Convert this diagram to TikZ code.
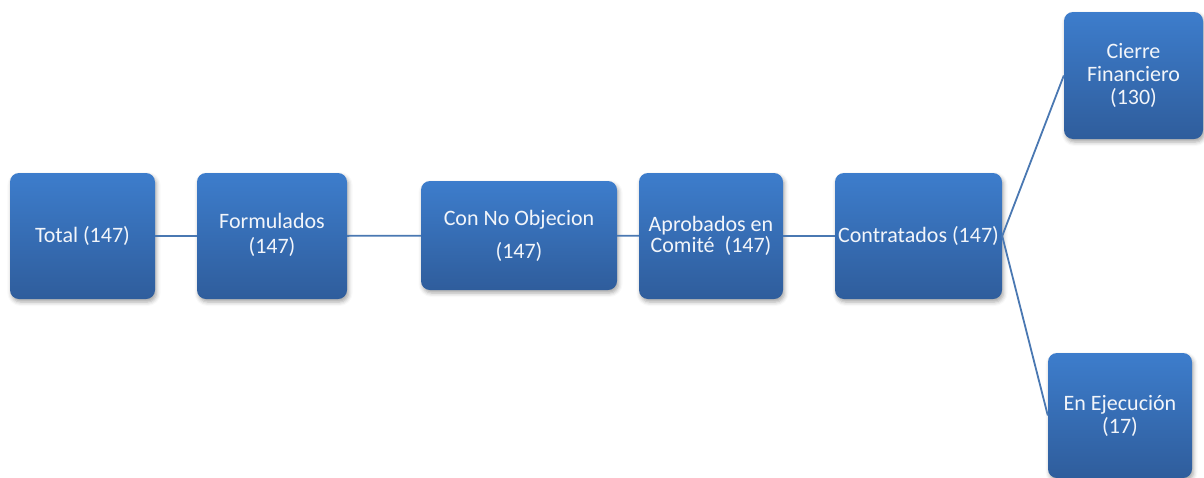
\documentclass[tikz,border=0pt]{standalone}
\usepackage{fontspec}
\setmainfont{Carlito}
\usetikzlibrary{shadows.blur}
\definecolor{boxtop}{HTML}{3D7DCC}
\definecolor{boxbot}{HTML}{2F5D9C}
\definecolor{linkblue}{HTML}{4A78B2}
\definecolor{boxtext}{HTML}{F2F5FA}
\tikzset{
  stagebox/.style={rectangle, rounded corners=9pt, top color=boxtop, bottom color=boxbot,
    draw=none, text=boxtext, align=center, inner sep=1pt,
    font=\fontsize{22}{23}\selectfont,
    blur shadow={shadow xshift=1.5pt, shadow yshift=-3pt, shadow blur radius=4pt, shadow opacity=35}},
  link/.style={draw=linkblue, line width=1.8pt}
}
\begin{document}
\begin{tikzpicture}[x=1pt,y=-1pt]
    \useasboundingbox (0,0) rectangle (1204,477);
    % Main chain of stages
    \node[stagebox, minimum width=145pt, minimum height=126pt] (total) at (82.5,236) {Total (147)};
    \node[stagebox, minimum width=150pt, minimum height=126pt, font=\fontsize{22}{25}\selectfont] (form) at (272,236) {\raisebox{5pt}{\begin{tabular}{@{}c@{}}Formulados\\(147)\end{tabular}}};
    \node[stagebox, minimum width=196pt, minimum height=109pt, font=\fontsize{22}{33}\selectfont] (noobj) at (519,235.5) {Con No Objecion\\(147)};
    \node[stagebox, minimum width=144pt, minimum height=126pt, font=\fontsize{22}{18}\selectfont] (aprob) at (711,236) {Aprobados en\\Comité\ \ (147)};
    \node[stagebox, minimum width=167pt, minimum height=126pt] (contr) at (918.5,236) {Contratados (147)};

    % Branches after contracting
    \node[stagebox, minimum width=139pt, minimum height=127pt] (cierre) at (1133.5,75.5) {Cierre\\Financiero\\(130)};
    \node[stagebox, minimum width=144pt, minimum height=125pt] (ejec) at (1120,415.5) {En Ejecución\\(17)};

    % Connectors
    \draw[link] (total) -- (form);
    \draw[link] (form) -- (noobj);
    \draw[link] (noobj) -- (aprob);
    \draw[link] (aprob) -- (contr);
    \draw[link] (contr.east) -- (cierre.west);
    \draw[link] (contr.east) -- (ejec.west);
\end{tikzpicture}
\end{document}
